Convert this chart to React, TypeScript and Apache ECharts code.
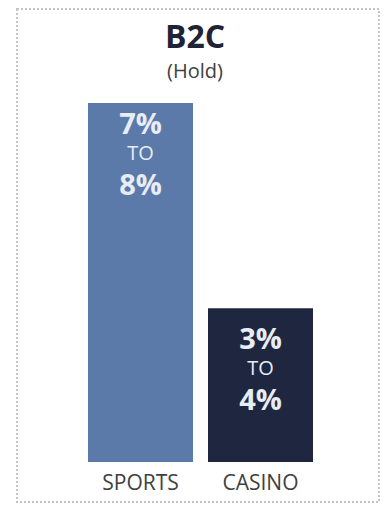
import React, { useEffect, useRef } from "react";
import * as echarts from "echarts";

const categories = ["SPORTS", "CASINO"];
const values = [7, 3];
const lowLabels = ["7%", "3%"];
const highLabels = ["8%", "4%"];
const barColors = ["#5b7aaa", "#1f2640"];

const FONT = "'Open Sans', 'Noto Sans', sans-serif";

export default function App() {
  const ref = useRef<HTMLDivElement>(null);
  useEffect(() => {
    if (!ref.current) return;
    const chart = echarts.init(ref.current, null, { renderer: "svg" });
    const distances = [1, 11];
    const border = { fill: "none", stroke: "#c4c4c4", lineWidth: 2, lineDash: [2, 2] };
    chart.setOption({
      animation: false,
      backgroundColor: "#ffffff",
      title: {
        text: "B2C",
        subtext: "(Hold)",
        left: "center",
        top: 14,
        itemGap: 9,
        textStyle: { fontFamily: FONT, fontSize: 32, fontWeight: "bold", color: "#1f2335" },
        subtextStyle: { fontFamily: FONT, fontSize: 20, color: "#404040" },
      },
      graphic: [
        { type: "rect", shape: { x: 17, y: 9, width: 362, height: 493 }, style: border, silent: true, z: 10 },
      ],
      grid: { left: 80.5, right: 69.5, top: 103, bottom: 50, containLabel: false },
      xAxis: {
        type: "category",
        data: categories,
        axisLine: { show: false },
        axisTick: { show: false },
        axisLabel: { fontFamily: FONT, fontSize: 21, color: "#404040", margin: 9 },
      },
      yAxis: {
        type: "value",
        min: 0,
        max: 7,
        show: false,
        splitLine: { show: false },
      },
      series: [
        {
          type: "bar",
          barWidth: 105,
          data: values.map((v, i) => ({
            value: v,
            itemStyle: { color: barColors[i] },
            label: {
              show: true,
              position: "insideTop",
              distance: distances[i],
              formatter: `{a|${lowLabels[i]}}\n{b|TO}\n{a|${highLabels[i]}}`,
              rich: {
                a: { fontFamily: FONT, fontSize: 29, fontWeight: "bold", color: "#e8edf5", lineHeight: 36, align: "center" },
                b: { fontFamily: FONT, fontSize: 20, color: "#e8edf5", lineHeight: 25, align: "center" },
              },
            },
          })),
        },
      ],
    });
    return () => chart.dispose();
  }, []);
  return <div ref={ref} style={{ width: 390, height: 512, margin: -8 }} />;
}
